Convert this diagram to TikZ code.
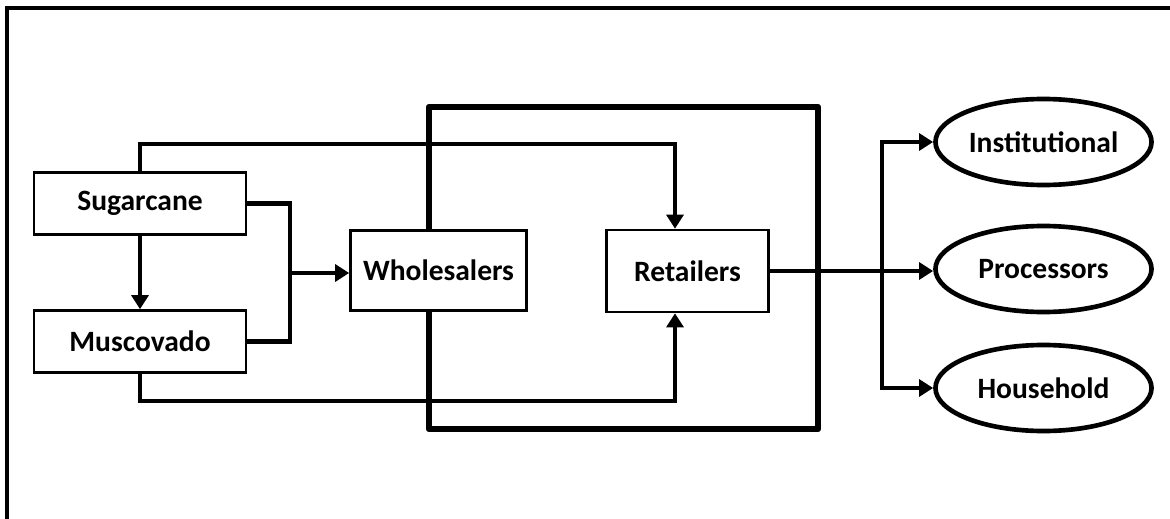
\documentclass[tikz,border=0pt]{standalone}
\usepackage{fontspec}
\setmainfont{Carlito}
\usetikzlibrary{arrows.meta,shapes.geometric}
\pgfdeclarelayer{bg}
\pgfsetlayers{bg,main}
\tikzset{
    every node/.style={inner sep=0mm, font=\fontsize{21}{24}\selectfont\bfseries}
}
\tikzset{
    box/.style={rectangle, draw, line width=1.8pt, fill=white},
    oval/.style={ellipse, draw, line width=3.3pt, fill=white, minimum width=5.4cm, minimum height=2.15cm},
    link/.style={line width=3pt},
    flow/.style={link, -{Triangle[length=10pt, width=12pt]}}
}

\begin{document}
\begin{tikzpicture}[x=0.025cm, y=-0.025cm]
    \useasboundingbox (0, 0) rectangle (1170, 519);

    \node (sugar) at (140, 203.5) [box, minimum width=5.3cm, minimum height=1.55cm] {Sugarcane};
    \node (musc) at (140, 341.5) [box, minimum width=5.3cm, minimum height=1.55cm] {Muscovado};
    \node (whole) at (438.5, 270.5) [box, minimum width=4.4cm, minimum height=2cm] {Wholesalers};
    \node (retail) at (687.5, 271) [box, minimum width=4.05cm, minimum height=2.05cm] {Retailers};

    \node (inst) at (1043.5, 142) [oval] {Institutional};
    \node (proc) at (1043.5, 269) [oval] {Processors};
    \node (house) at (1043.5, 388) [oval] {Household};

    \coordinate (topbend) at (675, 144);
    \coordinate (botbend) at (675, 401);
    \coordinate (merge) at (290, 273);
    \coordinate (split) at (882, 271);

    \begin{pgfonlayer}{bg}
        \draw[line width=2.2pt] (7, 519) -- (7, 8) -- (1170, 8);

        \draw[flow] (sugar) -- (musc);
        \draw[link] (sugar.east) -| (merge) |- (musc.east);
        \draw[flow] (merge) -- (merge -| whole.west);
        \draw[flow] (sugar.north) |- (topbend) -- (topbend |- retail.north);
        \draw[flow] (musc.south) |- (botbend) -- (botbend |- retail.south);

        \draw[flow] (retail.east) -- (retail.east -| proc.west);
        \draw[flow] (split) |- (inst.west);
        \draw[flow] (split) |- (house.west);

        \draw[line width=4.5pt, line join=round] (429, 107) rectangle (818, 429);
    \end{pgfonlayer}
\end{tikzpicture}
\end{document}
